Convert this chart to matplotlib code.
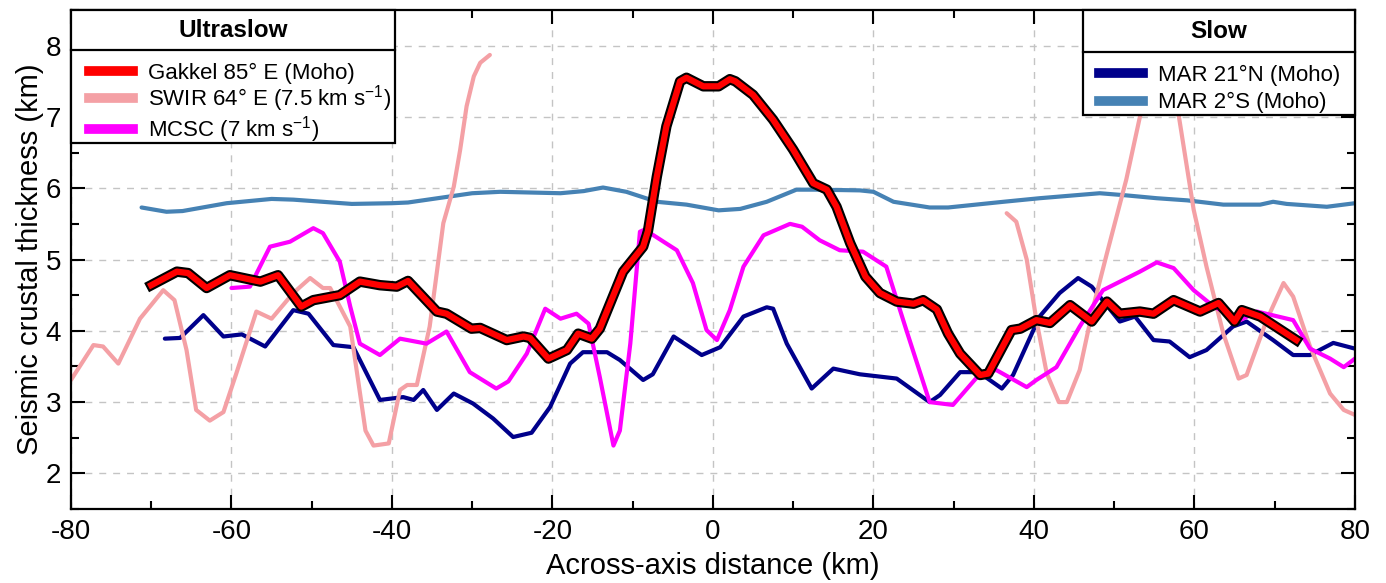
import numpy as np
import matplotlib
matplotlib.use('Agg')
import matplotlib.pyplot as plt
import matplotlib.patheffects as pe
from matplotlib.lines import Line2D
from matplotlib.patches import Rectangle

plt.rcParams['font.family'] = ['Liberation Sans', 'DejaVu Sans']
plt.rcParams['mathtext.default'] = 'regular'
plt.rcParams['axes.unicode_minus'] = False

# Gakkel 85° E (Moho)
gakkel_x = [-70, -66.8, -65.4, -63.1, -60.2, -56.4, -54.2, -51.3, -49.8, -46.5, -44.0, -41.5,
            -39.4, -38.0, -34.4, -33.2, -30.1, -29.0, -25.7, -23.6, -22.8, -20.5, -18.2, -16.8,
            -15.1, -14.1, -11.2, -8.7, -8.1, -7.0, -5.8, -4.1, -3.3, -1.2, 0.7, 2.1, 2.8, 5.0,
            7.5, 10.0, 12.5, 14.2, 15.4, 17.1, 19.0, 20.8, 22.9, 25.0, 26.2, 27.9, 29.3, 30.8,
            33.3, 34.3, 37.2, 38.3, 40.3, 42.0, 44.5, 47.2, 49.1, 50.7, 53.2, 54.9, 57.4, 60.7,
            63.0, 65.0, 65.9, 68.2, 72.7]
gakkel_y = [4.64, 4.83, 4.81, 4.60, 4.78, 4.69, 4.78, 4.34, 4.43, 4.50, 4.69, 4.64,
            4.62, 4.70, 4.27, 4.24, 4.03, 4.04, 3.87, 3.92, 3.90, 3.61, 3.73, 3.96,
            3.89, 4.03, 4.83, 5.18, 5.40, 6.16, 6.87, 7.50, 7.55, 7.43, 7.43, 7.53, 7.50, 7.31,
            6.96, 6.54, 6.07, 5.98, 5.74, 5.23, 4.76, 4.53, 4.41, 4.38, 4.43, 4.30, 3.96, 3.68,
            3.38, 3.40, 4.01, 4.03, 4.15, 4.11, 4.36, 4.13, 4.41, 4.24, 4.27, 4.24, 4.43, 4.27,
            4.39, 4.13, 4.29, 4.20, 3.87]

# SWIR 64° E (7.5 km/s), two segments
swir_w_x = [-80, -77.2, -76.0, -74.1, -71.4, -68.5, -67.1, -65.6, -64.4, -62.7, -61.0, -59.4,
            -56.9, -55.0, -52.3, -50.2, -48.6, -47.7, -45.2, -43.3, -42.3, -40.4, -39.0, -38.1,
            -36.9, -35.3, -33.6, -32.3, -31.5, -30.7, -29.8, -29.0, -27.8]
swir_w_y = [3.31, 3.80, 3.78, 3.54, 4.17, 4.57, 4.43, 3.73, 2.89, 2.74, 2.86, 3.40,
            4.27, 4.17, 4.53, 4.74, 4.60, 4.60, 4.06, 2.60, 2.39, 2.42, 3.17, 3.24,
            3.24, 4.06, 5.51, 6.02, 6.54, 7.15, 7.57, 7.76, 7.87]
swir_e_x = [36.6, 37.8, 39.1, 40.3, 41.6, 43.1, 44.1, 45.7, 47.4, 49.1, 51.5, 53.2, 55.6,
            58.0, 59.9, 61.5, 63.6, 65.5, 66.5, 69.0, 71.1, 72.3, 74.4, 76.9, 78.6, 80]
swir_e_y = [5.65, 5.53, 5.00, 4.15, 3.40, 3.00, 3.00, 3.45, 4.34, 5.09, 6.12, 7.00, 7.80,
            7.05, 5.70, 4.90, 3.96, 3.33, 3.38, 4.15, 4.67, 4.48, 3.78, 3.12, 2.89, 2.82]

# MCSC (7 km/s)
mcsc_x = [-60, -57.7, -55.2, -52.7, -49.8, -48.6, -46.5, -45.2, -44.0, -41.5, -39.0, -35.7,
          -33.2, -30.3, -27.0, -25.5, -23.2, -20.9, -19.0, -17.0, -15.5, -14.1, -12.4, -11.6,
          -10.3, -9.1, -8.5, -7.4, -4.5, -2.5, -0.8, 0.5, 2.1, 3.8, 6.3, 9.6, 11.1, 13.3,
          15.8, 18.7, 21.6, 24.1, 27.0, 29.9, 33.3, 35.3, 39.1, 40.3, 42.8, 45.7, 48.6, 53.2,
          55.3, 57.4, 59.9, 62.4, 65.7, 67.8, 72.3, 74.4, 76.9, 78.6, 80]
mcsc_y = [4.60, 4.62, 5.18, 5.25, 5.44, 5.37, 4.97, 4.34, 3.82, 3.66, 3.89, 3.82,
          3.99, 3.42, 3.19, 3.29, 3.68, 4.31, 4.17, 4.24, 4.10, 3.35, 2.39, 2.60,
          3.82, 5.39, 5.42, 5.34, 5.13, 4.67, 4.01, 3.87, 4.29, 4.90, 5.34, 5.50, 5.46, 5.27,
          5.13, 5.11, 4.90, 4.01, 3.00, 2.96, 3.40, 3.45, 3.21, 3.31, 3.49, 4.06, 4.57, 4.83,
          4.96, 4.88, 4.57, 4.34, 4.15, 4.27, 4.15, 3.75, 3.61, 3.49, 3.61]

# MAR 21°N (Moho)
mar21_x = [-68.3, -66.4, -63.5, -61.0, -58.7, -55.8, -52.3, -50.4, -47.3, -44.8, -41.5, -38.6,
           -37.3, -36.1, -34.4, -32.3, -29.9, -27.4, -24.9, -22.6, -20.3, -17.8, -16.2, -13.2,
           -11.6, -8.7, -7.5, -4.9, -1.4, 0.9, 3.8, 6.7, 7.5, 9.2, 12.3, 15.0, 18.3, 22.9,
           27.0, 28.3, 30.8, 33.1, 36.0, 37.4, 40.7, 43.2, 45.5, 47.2, 50.7, 52.6, 54.9, 56.9,
           59.4, 61.5, 64.8, 66.5, 69.8, 72.3, 74.4, 77.3, 80]
mar21_y = [3.89, 3.90, 4.22, 3.92, 3.95, 3.78, 4.29, 4.24, 3.80, 3.77, 3.03, 3.07,
           3.03, 3.17, 2.89, 3.12, 2.98, 2.77, 2.51, 2.57, 2.93, 3.54, 3.70, 3.70,
           3.59, 3.31, 3.39, 3.92, 3.66, 3.77, 4.20, 4.33, 4.31, 3.82, 3.19, 3.47, 3.39, 3.33,
           3.00, 3.10, 3.42, 3.42, 3.19, 3.38, 4.20, 4.53, 4.74, 4.62, 4.13, 4.20, 3.87, 3.85,
           3.63, 3.73, 4.06, 4.13, 3.87, 3.66, 3.66, 3.83, 3.75]

# MAR 2°S (Moho)
mar2_x = [-71.2, -68.1, -66.1, -60.6, -55.0, -52.3, -45.0, -40.0, -38.0, -30.0, -26.5, -19.0,
          -16.1, -13.7, -10.8, -7.0, -3.3, 0.7, 3.4, 6.7, 10.4, 12.9, 18.3, 20.0, 22.5, 27.0,
          29.3, 36.2, 40.7, 48.2, 51.5, 55.3, 59.1, 63.6, 68.2, 69.8, 71.5, 76.5, 80]
mar2_y = [5.73, 5.67, 5.68, 5.79, 5.85, 5.84, 5.78, 5.79, 5.80, 5.93, 5.95, 5.93,
          5.96, 6.01, 5.95, 5.81, 5.77, 5.69, 5.71, 5.81, 5.98, 5.98, 5.97, 5.95, 5.81, 5.73,
          5.73, 5.81, 5.86, 5.93, 5.90, 5.86, 5.83, 5.77, 5.77, 5.81, 5.78, 5.74, 5.79]

c_gakkel = '#ff0000'
c_swir = '#f4a0a5'
c_mcsc = '#ff00ff'
c_mar21 = '#00008b'
c_mar2 = '#4682b4'

fig = plt.figure(figsize=(13.86, 5.83), dpi=100)
ax = fig.add_axes([0.0512, 0.1269, 0.9264, 0.8559])

ax.plot(mar2_x, mar2_y, color=c_mar2, lw=3, zorder=2, solid_capstyle='round')
ax.plot(mar21_x, mar21_y, color=c_mar21, lw=3, zorder=2, solid_capstyle='round')
ax.plot(swir_w_x, swir_w_y, color=c_swir, lw=3, zorder=2, solid_capstyle='round')
ax.plot(swir_e_x, swir_e_y, color=c_swir, lw=3, zorder=2, solid_capstyle='round')
ax.plot(mcsc_x, mcsc_y, color=c_mcsc, lw=3, zorder=2, solid_capstyle='round')
ax.plot(gakkel_x, gakkel_y, color=c_gakkel, lw=4.5, zorder=3,
        path_effects=[pe.Stroke(linewidth=7.5, foreground='black'), pe.Normal()])

ax.set_xlim(-80, 80)
ax.set_ylim(1.5, 8.5)
ax.set_xticks(np.arange(-80, 81, 20))
ax.set_xticks(np.arange(-70, 80, 10), minor=True)
ax.set_yticks(np.arange(2, 9, 1))
ax.set_yticks(np.arange(1.5, 8.6, 0.5), minor=True)
ax.grid(True, which='major', color='#c4c4c4', lw=1, linestyle=(0, (5, 5)), zorder=0)
ax.tick_params(which='both', direction='in', top=True, right=True, labelsize=20, pad=7)
ax.tick_params(which='major', length=10, width=1.5)
ax.tick_params(which='minor', length=6, width=1.5)
for s in ax.spines.values():
    s.set_linewidth(1.6)

ax.set_xlabel('Across-axis distance (km)', fontsize=21, labelpad=5)
ax.set_ylabel('Seismic crustal thickness (km)', fontsize=21, labelpad=1)


def legend_box(x0, x1, y0, ysep, title, handles, anchor, spacing):
    ax.add_patch(Rectangle((x0, y0), x1 - x0, 1.0 - y0, transform=ax.transAxes,
                           facecolor='white', edgecolor='black', lw=1.6,
                           zorder=6, clip_on=False))
    ax.add_line(Line2D([x0, x1], [ysep, ysep], transform=ax.transAxes,
                       color='black', lw=1.6, zorder=7, clip_on=False))
    ax.text((x0 + x1) / 2, (1.0 + ysep) / 2, title, transform=ax.transAxes,
            ha='center', va='center', fontsize=17.5, fontweight='bold', zorder=8)
    leg = ax.legend(handles=handles, loc='upper left', bbox_to_anchor=anchor,
                    frameon=False, fontsize=16, borderpad=0, borderaxespad=0,
                    handlelength=2.0, handletextpad=0.65, labelspacing=spacing)
    leg.set_zorder(9)
    return leg


ultra = [Line2D([], [], color=c_gakkel, lw=7, label='Gakkel 85° E (Moho)'),
         Line2D([], [], color=c_swir, lw=7, label='SWIR 64° E (7.5 km s$^{-1}$)'),
         Line2D([], [], color=c_mcsc, lw=7, label='MCSC (7 km s$^{-1}$)')]
slow = [Line2D([], [], color=c_mar21, lw=7, label='MAR 21°N (Moho)'),
        Line2D([], [], color=c_mar2, lw=7, label='MAR 2°S (Moho)')]

leg1 = legend_box(0.0, 0.2523, 0.7335, 0.9198, 'Ultraslow', ultra, (0.014, 0.895), 0.0)
ax.add_artist(leg1)
leg2 = legend_box(0.7882, 1.0, 0.7896, 0.9158, 'Slow', slow, (0.8006, 0.891), 0.3)

fig.savefig('out.png', dpi=100)
